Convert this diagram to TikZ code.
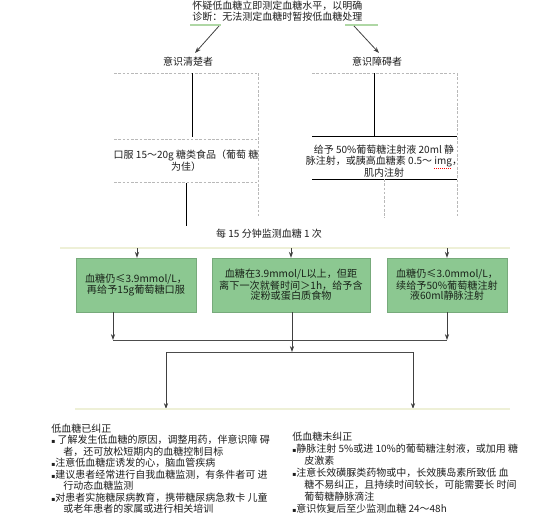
\documentclass[tikz,border=0pt]{standalone}
\usepackage{fontspec}
\setmainfont{Noto Sans CJK SC}
\newfontfamily\dv{DejaVu Sans}
\usetikzlibrary{arrows.meta}
\definecolor{boxgreen}{RGB}{140,200,145}
\definecolor{txt}{RGB}{30,30,30}
\definecolor{boxtxt}{RGB}{25,35,25}
\definecolor{dgray}{RGB}{185,185,185}
\definecolor{lgreen}{RGB}{175,215,165}
\definecolor{faint}{RGB}{238,240,215}
\newcommand{\bul}{{\dv\fontsize{4.5}{4.5}\selectfont ▪}}
\begin{document}
\begin{tikzpicture}[x=0.75pt,y=-0.75pt,
  every node/.style={inner sep=0pt, text=txt},
  t/.style={font=\fontsize{7.5}{8.6}\selectfont},
  gbox/.style={draw=boxgreen!85!black, line width=0.3pt, fill=boxgreen, text=boxtxt, font=\fontsize{7.6}{7.6}\selectfont, align=center, inner sep=0pt, minimum height=40.5pt},
  dsh/.style={draw=dgray, dash pattern=on 2pt off 1.2pt, line width=0.5pt},
  sol/.style={draw=black, line width=0.65pt},
  arr/.style={draw=black!75, line width=0.6pt, -{Stealth[length=4.5pt,width=3.2pt]}},
  conn/.style={draw=black!70, line width=0.6pt},
]
\useasboundingbox (0,0) rectangle (553,526);

% top text
\node[t, anchor=north west, align=left, font=\fontsize{7.5}{8.3}\selectfont] (top) at (192,0.5)
  {怀疑低血糖立即测定血糖水平，以明确\\诊断：无法测定血糖时暂按低血糖处理};
\coordinate (gl1) at (190,25); \coordinate (gl2) at (221,25);
\coordinate (gr1) at (345,25); \coordinate (gr2) at (378,25);
\draw[lgreen, line width=1pt] (gl1) -- (gl2);
\draw[lgreen, line width=1pt] (gr1) -- (gr2);
\coordinate (al) at (219,26); \coordinate (ar) at (354,26);

\node[t] (clear) at (188,62) {意识清楚者};
\node[t] (unc) at (377,62) {意识障碍者};
\coordinate (alt) at (195,53); \coordinate (art) at (379,53);
\draw[arr] (al) -- (alt);
\draw[arr] (ar) -- (art);

% left column
\coordinate (L1) at (114,73); \coordinate (L2) at (258,73);
\draw[dsh] (L1) -- (L2);
\coordinate (L3) at (258,218);
\draw[dsh] (L2) -- (L3);
\coordinate (ls1) at (192,73); \coordinate (ls2) at (192,137);
\draw[sol] (ls1) -- (ls2);
\coordinate (L4) at (114,139); \coordinate (L5) at (258,139);
\draw[dsh] (L4) -- (L5);
\node[t, align=center] (oral) at (186,160.5) {口服 15～20g 糖类食品（葡萄 糖\\为佳）};
\coordinate (L6) at (114,182); \coordinate (L7) at (258,182);
\draw[dsh] (L6) -- (L7);
\coordinate (ls3) at (186,183); \coordinate (ls4) at (186,226);
\draw[sol] (ls3) -- (ls4);

% right column
\coordinate (R1) at (312,73); \coordinate (R2) at (457,73);
\draw[dsh] (R1) -- (R2);
\coordinate (R3) at (457,218);
\draw[dsh] (R2) -- (R3);
\coordinate (rs1) at (374,73); \coordinate (rs2) at (374,136);
\draw[sol] (rs1) -- (rs2);
\coordinate (R4) at (312,136); \coordinate (R5) at (457,136);
\draw[sol] (R4) -- (R5);
\node[t, align=center] (inj) at (384,161) {给予 50\%葡萄糖注射液 20ml 静\\脉注射，或胰高血糖素 0.5～ img，\\肌内注射};
\coordinate (img1) at (434,168); \coordinate (img2) at (452,168);
\draw[red, densely dotted, line width=0.5pt] (img1) -- (img2);
\coordinate (R6) at (312,179); \coordinate (R7) at (457,179);
\draw[sol] (R6) -- (R7);
\coordinate (R8) at (384,179); \coordinate (R9) at (384,218);
\draw[dsh] (R8) -- (R9);

% monitor
\node[t] (mon) at (269,234) {每 15 分钟监测血糖 1 次};
\coordinate (f1) at (60,248); \coordinate (f2) at (510,248);
\draw[faint, line width=1pt] (f1) -- (f2);

% green boxes
\node[gbox, minimum width=90pt] (b1) at (136,285) {血糖仍≤3.9mmol/L，\\再给予15g葡萄糖口服};
\node[gbox, minimum width=118.5pt] (b2) at (291,285) {血糖在3.9mmol/L以上，但距\\离下一次就餐时间＞1h，给予含\\淀粉或蛋白质食物};
\node[gbox, minimum width=90pt] (b3) at (447,285) {血糖仍≤3.0mmol/L，\\续给予50\%葡萄糖注射\\液60ml静脉注射};
\coordinate (t1) at (137,248); \coordinate (t2) at (291,248); \coordinate (t3) at (447,248);
\draw[arr] (t1) -- (b1.north -| t1);
\draw[arr] (t2) -- (b2.north -| t2);
\draw[arr] (t3) -- (b3.north -| t3);

% merging connectors
\coordinate (j1) at (113,340); \coordinate (j3) at (447,340);
\draw[arr] (b1.south -| j1) -- (j1);
\draw[arr] (b3.south -| j3) -- (j3);
\draw[conn] (j1) -- (j3);
\coordinate (j2) at (292,352);
\draw[arr] (b2.south -| j2) -- (j2);
\coordinate (k1) at (166,352); \coordinate (k2) at (413,352);
\draw[conn] (k1) -- (k2);
\coordinate (e1) at (166,409); \coordinate (e2) at (413,409);
\draw[arr] (k1) -- (e1);
\draw[arr] (k2) -- (e2);
\coordinate (f3) at (75,409); \coordinate (f4) at (510,409);
\draw[faint, line width=1pt] (f3) -- (f4);

% bottom texts
\node[t, anchor=north west, align=left, font=\fontsize{7.5}{8.6}\selectfont] (okay) at (51,423.5) {低血糖已纠正\\
\bul\ 了解发生低血糖的原因，调整用药，伴意识障 碍\\
\hspace*{1.2em}者，还可放松短期内的血糖控制目标\\
\bul 注意低血糖症诱发的心，脑血管疾病\\
\bul 建议患者经常进行自我血糖监测，有条件者可 进\\
\hspace*{1.2em}行动态血糖监测\\
\bul 对患者实施糖尿病教育，携带糖尿病急救卡 儿童\\
\hspace*{1.2em}或老年患者的家属或进行相关培训};

\node[t, anchor=north west, align=left, font=\fontsize{7.5}{9}\selectfont] (notok) at (292,431.5) {低血糖未纠正\\
\bul 静脉注射 5\%或进 10\%的葡萄糖注射液，或加用 糖\\
\hspace*{1.2em}皮激素\\
\bul 注意长效磺脲类药物或中，长效胰岛素所致低 血\\
\hspace*{1.2em}糖不易纠正，且持续时间较长，可能需要长 时间\\
\hspace*{1.2em}葡萄糖静脉滴注\\
\bul 意识恢复后至少监测血糖 24～48h};
\end{tikzpicture}
\end{document}
